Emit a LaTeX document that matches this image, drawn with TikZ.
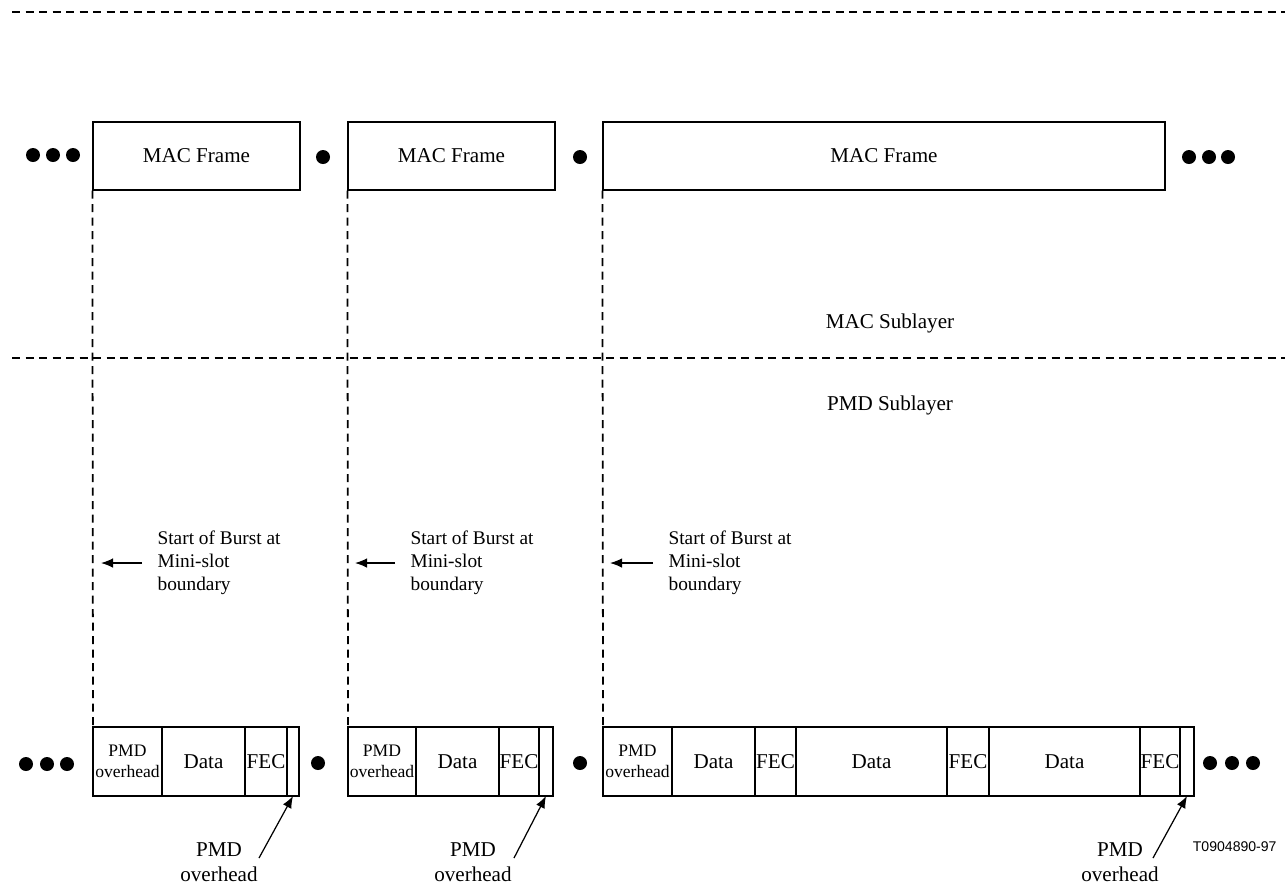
\documentclass[tikz,border=0pt]{standalone}
\usepackage{fontspec}
\setmainfont{Liberation Serif}
\setsansfont{Liberation Sans}
\usetikzlibrary{
    positioning,
    arrows.meta
}
\tikzset{
    >={Latex[length=2.4mm,width=1.9mm]},
    macframe/.style={
        draw,
        line width=0.7pt,
        minimum height=13.6mm,
        inner sep=0pt,
        font=\fontsize{12}{14}\selectfont
    },
    cell/.style={
        draw,
        line width=0.7pt,
        minimum height=13.8mm,
        inner sep=0pt,
        outer sep=0pt,
        font=\fontsize{12}{14}\selectfont
    },
    ovh/.style={
        cell,
        align=center,
        font=\fontsize{10}{12}\selectfont
    },
    smalldot/.style={
        circle,
        fill,
        inner sep=0pt,
        minimum size=2.8mm
    },
    layerline/.style={
        line width=1pt,
        dash pattern=on 1.6mm off 1.1mm
    },
    burst/.style={
        anchor=west,
        align=left,
        inner xsep=3mm,
        inner ysep=0pt,
        font=\fontsize{11}{13}\selectfont
    },
    pmdlabel/.style={
        align=center,
        font=\fontsize{12}{14}\selectfont
    }
}

\begin{document}
\begin{tikzpicture}[
    x=0.2mm,
    y=-0.2mm,
    line width=0.7pt
]
    \useasboundingbox (0,0) rectangle (1285,888);

    % Capas
    \draw[layerline] (12,12) -- (1285,12);
    \draw[layerline] (12,358) -- (1285,358);
    \node[pmdlabel] (macl) at (890,323) {MAC Sublayer};
    \node[pmdlabel] (pmdl) at (890,405) {PMD Sublayer};

    % Tramas MAC
    \node[macframe, minimum width=41.4mm]  (frA) at (196.5,156) {MAC Frame};
    \node[macframe, minimum width=41.4mm]  (frB) at (451.5,156) {MAC Frame};
    \node[macframe, minimum width=112.4mm] (frC) at (884,156)   {MAC Frame};

    % Puntos arriba
    \node[smalldot] (dTa) at (33,155)   {};
    \node[smalldot] (dTb) at (53,155)   {};
    \node[smalldot] (dTc) at (73,155)   {};
    \node[smalldot] (dTd) at (323,157)  {};
    \node[smalldot] (dTe) at (580,157)  {};
    \node[smalldot] (dTf) at (1189,157) {};
    \node[smalldot] (dTg) at (1209,157) {};
    \node[smalldot] (dTh) at (1228,157) {};

    % Rafaga A
    \node[ovh, anchor=north west, minimum width=13.8mm] (cA1) at (93,727) {PMD\\overhead};
    \node[cell, right=0pt of cA1, minimum width=16.6mm] (cA2) {Data};
    \node[cell, right=0pt of cA2, minimum width=8.4mm]  (cA3) {FEC};
    \node[cell, right=0pt of cA3, minimum width=2.4mm]  (cA4) {};

    % Rafaga B
    \node[ovh, anchor=north west, minimum width=13.6mm] (cB1) at (348,727) {PMD\\overhead};
    \node[cell, right=0pt of cB1, minimum width=16.6mm] (cB2) {Data};
    \node[cell, right=0pt of cB2, minimum width=8mm]    (cB3) {FEC};
    \node[cell, right=0pt of cB3, minimum width=2.8mm]  (cB4) {};

    % Rafaga C
    \node[ovh, anchor=north west, minimum width=13.8mm] (cC1) at (603,727) {PMD\\overhead};
    \node[cell, right=0pt of cC1, minimum width=16.6mm] (cC2) {Data};
    \node[cell, right=0pt of cC2, minimum width=8.2mm]  (cC3) {FEC};
    \node[cell, right=0pt of cC3, minimum width=30.2mm] (cC4) {Data};
    \node[cell, right=0pt of cC4, minimum width=8.4mm]  (cC5) {FEC};
    \node[cell, right=0pt of cC5, minimum width=30.2mm] (cC6) {Data};
    \node[cell, right=0pt of cC6, minimum width=8mm]    (cC7) {FEC};
    \node[cell, right=0pt of cC7, minimum width=2.8mm]  (cC8) {};

    % Puntos abajo
    \node[smalldot] (dBa) at (26,764)   {};
    \node[smalldot] (dBb) at (47,764)   {};
    \node[smalldot] (dBc) at (67,764)   {};
    \node[smalldot] (dBd) at (318,763)  {};
    \node[smalldot] (dBe) at (580,763)  {};
    \node[smalldot] (dBf) at (1210,763) {};
    \node[smalldot] (dBg) at (1232,763) {};
    \node[smalldot] (dBh) at (1253,763) {};

    % Limites de mini-slot
    \draw[layerline] (frA.south west) -- (cA1.north west);
    \draw[layerline] (frB.south west) -- (cB1.north west);
    \draw[layerline] (frC.south west) -- (cC1.north west);

    \node[burst] (sbA) at (142,563) {Start of Burst at\\Mini-slot\\boundary};
    \node[burst] (sbB) at (395,563) {Start of Burst at\\Mini-slot\\boundary};
    \node[burst] (sbC) at (653,563) {Start of Burst at\\Mini-slot\\boundary};
    \coordinate (tA) at (101,563);
    \coordinate (tB) at (355,563);
    \coordinate (tC) at (610,563);
    \draw[->] (sbA.west) -- (tA);
    \draw[->] (sbB.west) -- (tB);
    \draw[->] (sbC.west) -- (tC);

    % Etiquetas PMD overhead
    \node[pmdlabel] (lA) at (219,862)  {PMD\\overhead};
    \node[pmdlabel] (lB) at (473,862)  {PMD\\overhead};
    \node[pmdlabel] (lC) at (1120,862) {PMD\\overhead};
    \coordinate (eA) at (259,858);
    \coordinate (eB) at (514,858);
    \coordinate (eC) at (1153,858);
    \draw[->] (eA) -- (cA4.south);
    \draw[->] (eB) -- (cB4.south);
    \draw[->] (eC) -- (cC8.south);

    \node[anchor=east, font=\sffamily\fontsize{8}{10}\selectfont] (fig) at (1283,847) {T0904890-97};

\end{tikzpicture}
\end{document}
